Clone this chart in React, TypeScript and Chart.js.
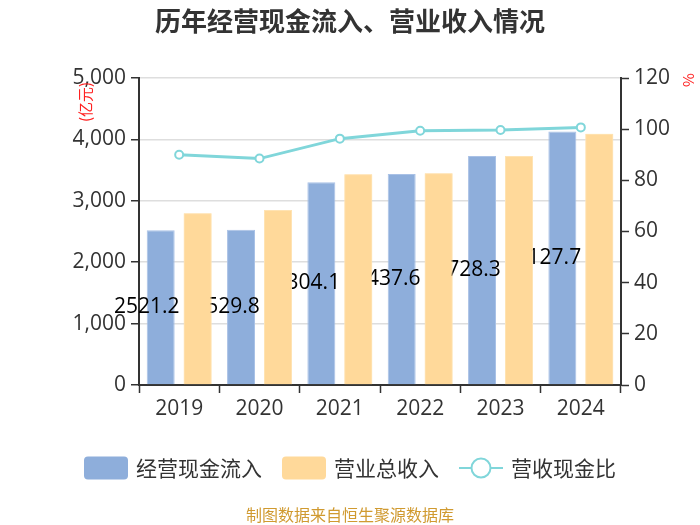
import React, { useEffect, useRef } from "react";
import { Chart, registerables } from "chart.js";

Chart.register(...registerables);

const categories = ["2019", "2020", "2021", "2022", "2023", "2024"];
const cashInflow = [2521.2, 2529.8, 3304.1, 3437.6, 3728.3, 4127.7];
const totalRevenue = [2797, 2852, 3433, 3449, 3731, 4090];
const cashRatio = [90.0, 88.5, 96.3, 99.4, 99.7, 100.7];
const seriesNames = ["经营现金流入", "营业总收入", "营收现金比"];
const titleText = "历年经营现金流入、营业收入情况";
const footerText = "制图数据来自恒生聚源数据库";
const leftUnit = "(亿元)";
const rightUnit = "%";

const BLUE = "#8eaedb";
const ORANGE = "#ffd99a";
const TEAL = "#80d6da";
const CJK = '"Noto Sans CJK SC", "Open Sans", sans-serif';
const NUM = '"Open Sans", "Noto Sans CJK SC", sans-serif';

const decorPlugin = {
  id: "decor",
  afterDatasetDraw(chart: any, args: any) {
    if (args.index !== 0) return;
    const ctx = chart.ctx;
    const meta = chart.getDatasetMeta(0);
    ctx.save();
    ctx.font = `21px ${NUM}`;
    ctx.fillStyle = "#000";
    ctx.textAlign = "center";
    ctx.textBaseline = "middle";
    meta.data.forEach((bar: any, i: number) => {
      const p = bar.getProps(["x", "y", "base", "width"], true);
      const x = p.x - p.width / 2;
      const y = (p.y + p.base) / 2;
      ctx.fillText(String(cashInflow[i]), x, y);
    });
    ctx.restore();
    // orange bars sit above the labels
    const meta1 = chart.getDatasetMeta(1);
    meta1.data.forEach((el: any) => el.draw(ctx, chart.chartArea));
  },
  afterDraw(chart: any) {
    const ctx = chart.ctx;
    const W = chart.width;
    ctx.save();
    // title
    ctx.font = `bold 26px ${CJK}`;
    ctx.fillStyle = "#333";
    ctx.textAlign = "center";
    ctx.textBaseline = "middle";
    ctx.fillText(titleText, W / 2, 21);

    // axis units
    ctx.fillStyle = "#ff2020";
    ctx.font = `15px ${CJK}`;
    ctx.save();
    ctx.translate(85, 102);
    ctx.rotate(-Math.PI / 2);
    ctx.fillText(leftUnit, 0, 0);
    ctx.restore();
    ctx.save();
    ctx.translate(688, 80);
    ctx.rotate(-Math.PI / 2);
    ctx.fillText(rightUnit, 0, 0);
    ctx.restore();

    // legend
    ctx.font = `21px ${CJK}`;
    ctx.textAlign = "left";
    const symW = 44;
    const symGap = 8;
    const itemGap = 20;
    const widths = seriesNames.map((n) => ctx.measureText(n).width);
    const total =
      widths.reduce((a, b) => a + b, 0) + seriesNames.length * (symW + symGap) + itemGap * (seriesNames.length - 1);
    let x = W / 2 - total / 2;
    const ly = 468;
    seriesNames.forEach((name, i) => {
      if (i < 2) {
        ctx.fillStyle = i === 0 ? BLUE : ORANGE;
        ctx.beginPath();
        (ctx as any).roundRect(x, ly - 11.5, symW, 23, 4);
        ctx.fill();
      } else {
        ctx.strokeStyle = TEAL;
        ctx.lineWidth = 2;
        ctx.beginPath();
        ctx.moveTo(x, ly);
        ctx.lineTo(x + symW, ly);
        ctx.stroke();
        ctx.beginPath();
        ctx.arc(x + symW / 2, ly, 9.5, 0, Math.PI * 2);
        ctx.fillStyle = "#fff";
        ctx.fill();
        ctx.stroke();
      }
      ctx.fillStyle = "#333";
      ctx.fillText(name, x + symW + symGap, ly);
      x += symW + symGap + widths[i] + itemGap;
    });

    // footer
    ctx.font = `16px ${CJK}`;
    ctx.fillStyle = "#d09a30";
    ctx.textAlign = "center";
    ctx.fillText(footerText, W / 2, 515);
    ctx.restore();
  },
};

export default function App() {
  const ref = useRef<HTMLCanvasElement | null>(null);
  useEffect(() => {
    if (!ref.current) return;
    const tickFont = { family: NUM, size: 21 };
    const chart = new Chart(ref.current, {
      type: "bar",
      data: {
        labels: categories,
        datasets: [
          {
            type: "bar",
            label: seriesNames[0],
            data: cashInflow,
            backgroundColor: BLUE,
            borderColor: "#a9c1e6",
            borderWidth: 1,
            yAxisID: "y",
            order: 1,
            barPercentage: 0.757,
            categoryPercentage: 0.92,
          },
          {
            type: "bar",
            label: seriesNames[1],
            data: totalRevenue,
            backgroundColor: ORANGE,
            borderColor: "#ffe3b3",
            borderWidth: 1,
            yAxisID: "y",
            order: 1,
            barPercentage: 0.757,
            categoryPercentage: 0.92,
          },
          {
            type: "line",
            label: seriesNames[2],
            data: cashRatio,
            borderColor: TEAL,
            borderWidth: 3,
            pointRadius: 4,
            pointBorderWidth: 2,
            pointBackgroundColor: "#fff",
            pointBorderColor: TEAL,
            yAxisID: "y1",
            order: 0,
            tension: 0,
          },
        ] as any,
      },
      options: {
        responsive: false,
        animation: false,
        devicePixelRatio: 1,
        layout: { padding: { top: 78, left: 0, right: 0, bottom: 0 } },
        plugins: {
          legend: { display: false },
          title: { display: false },
          tooltip: { enabled: false },
        },
        scales: {
          x: {
            afterFit: (s: any) => {
              s.height = 140;
            },
            grid: {
              offset: true,
              drawOnChartArea: false,
              tickLength: 8,
              tickColor: "#333",
              tickWidth: 1.5,
            },
            border: { color: "#333", width: 2 },
            ticks: { font: tickFont, color: "#333", padding: 3 },
          },
          y: {
            position: "left",
            min: 0,
            max: 5000,
            afterFit: (s: any) => {
              s.width = 139;
            },
            grid: {
              color: "#dedede",
              lineWidth: 1.5,
              tickLength: 8,
              tickColor: "#333",
              tickWidth: 1.5,
            },
            border: { color: "#333", width: 2 },
            ticks: {
              stepSize: 1000,
              font: tickFont,
              color: "#333",
              padding: 5,
              callback: (v: any) => Number(v).toLocaleString("en-US"),
            },
          },
          y1: {
            position: "right",
            min: 0,
            max: 120,
            afterFit: (s: any) => {
              s.width = 79;
            },
            grid: {
              drawOnChartArea: false,
              tickLength: 8,
              tickColor: "#333",
              tickWidth: 1.5,
            },
            border: { color: "#333", width: 2 },
            ticks: { stepSize: 20, font: tickFont, color: "#333", padding: 5 },
          },
        },
      } as any,
      plugins: [decorPlugin],
    });
    return () => chart.destroy();
  }, []);
  return (
    <div style={{ position: "absolute", left: 0, top: 0, width: 700, height: 525, background: "#fff" }}>
      <canvas ref={ref} width={700} height={525} style={{ width: 700, height: 525 }} />
    </div>
  );
}
